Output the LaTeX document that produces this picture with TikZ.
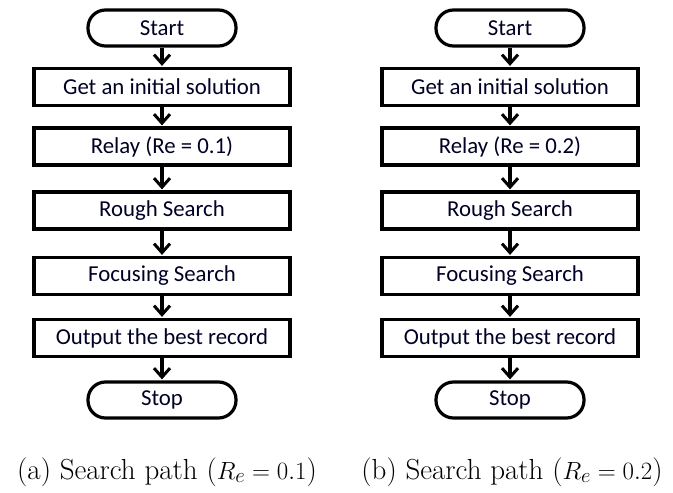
\documentclass[tikz,border=0pt]{standalone}
\usepackage{fontspec}
\newfontfamily\boxfont{Carlito}
\usetikzlibrary{arrows.meta}
\begin{document}
\begin{tikzpicture}[x=1pt,y=-1pt,
  flowbox/.style={draw=black, line width=3.2pt, fill=white,
    minimum width=256pt, minimum height=37pt, inner sep=0pt,
    font=\boxfont\fontsize{22.8}{27}\selectfont, text=black!85!blue},
  terminal/.style={flowbox, minimum width=148pt, minimum height=36pt,
    rounded corners=17.5pt},
  flowarrow/.style={line width=3.2pt, shorten >=1pt,
    -{Straight Barb[length=9pt,width=16pt,line width=3pt]}},
  caption/.style={font=\fontsize{29}{34}\selectfont, inner sep=0pt}]
\useasboundingbox (0,0) rectangle (673,493);

% left chart
\node[terminal] (a0) at (162,28)    {Start};
\node[flowbox]  (a1) at (162,87)    {Get an initial solution};
\node[flowbox]  (a2) at (162,146.5) {Relay (Re = 0.1)};
\node[flowbox]  (a3) at (162,210.5) {Rough Search};
\node[flowbox]  (a4) at (162,276)   {Focusing Search};
\node[flowbox]  (a5) at (162,338)   {Output the best record};
\node[terminal] (a6) at (162,400)   {Stop};
\foreach \i [evaluate=\i as \j using int(\i+1)] in {0,...,5}
  \draw[flowarrow] (a\i.south) -- (a\j.north);

% right chart
\node[terminal] (b0) at (510,28)    {Start};
\node[flowbox]  (b1) at (510,87)    {Get an initial solution};
\node[flowbox]  (b2) at (510,146.5) {Relay (Re = 0.2)};
\node[flowbox]  (b3) at (510,210.5) {Rough Search};
\node[flowbox]  (b4) at (510,276)   {Focusing Search};
\node[flowbox]  (b5) at (510,338)   {Output the best record};
\node[terminal] (b6) at (510,400)   {Stop};
\foreach \i [evaluate=\i as \j using int(\i+1)] in {0,...,5}
  \draw[flowarrow] (b\i.south) -- (b\j.north);

% sub-captions
\node[caption] (capa) at (167,472) {(a) Search path ($R_e = 0.1$)};
\node[caption] (capb) at (512,472) {(b) Search path ($R_e = 0.2$)};
\end{tikzpicture}
\end{document}
